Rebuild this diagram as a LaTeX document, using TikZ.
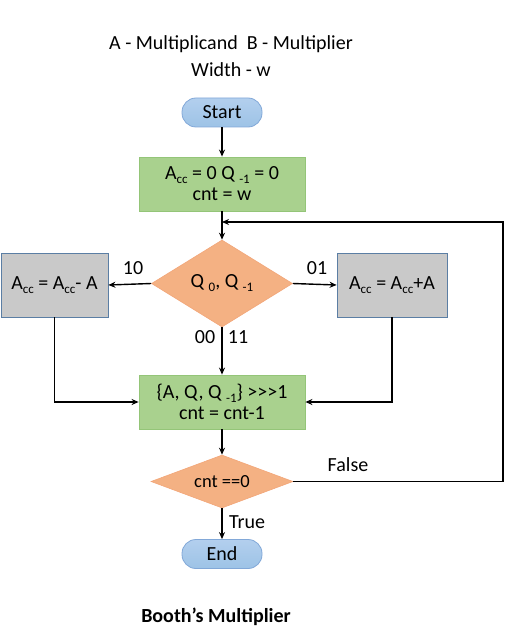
\documentclass[tikz,border=0pt]{standalone}
\usepackage{fontspec}
\setmainfont{Carlito}[Ligatures=TeXOff]
\usetikzlibrary{shapes.geometric,arrows.meta}
\definecolor{bluefill}{HTML}{9DC3E6}
\definecolor{bluetop}{HTML}{B3CFEE}
\definecolor{bluedraw}{HTML}{82A8D8}
\definecolor{greenfill}{HTML}{A9D18E}
\definecolor{greendraw}{HTML}{94C578}
\definecolor{orangefill}{HTML}{F4B183}
\definecolor{orangedraw}{HTML}{F2A679}
\definecolor{grayfill}{HTML}{C9C9C9}
\definecolor{graydraw}{HTML}{5B7EA4}
\newcommand\lo[1]{\raisebox{-4pt}{\fontsize{13}{13}\selectfont #1}}
\tikzset{
  txt/.style={font=\fontsize{20}{24}\selectfont, text=black},
  term/.style={txt, draw=bluedraw, line width=0.8pt, top color=bluetop, bottom color=bluefill, rounded corners=14pt, minimum width=80pt, minimum height=29pt, inner sep=0pt},
  gbox/.style={txt, draw=greendraw, line width=0.8pt, fill=greenfill, minimum width=166pt, minimum height=54pt, inner sep=0pt, align=center},
  graybox/.style={txt, draw=graydraw, line width=0.8pt, fill=grayfill, minimum height=64pt, inner sep=0pt},
  dia/.style={txt, diamond, draw=orangedraw, line width=0.6pt, fill=orangefill, inner sep=0pt},
  conn/.style={line width=1.4pt, draw=black},
  arr/.style={conn, -{Stealth[length=7pt,width=6pt]}},
  lbl/.style={txt}
}
\begin{document}
\begin{tikzpicture}[x=1pt,y=-1pt]
\useasboundingbox (0,0) rectangle (506,631);
\node[txt] (t1) at (231,44) {A - Multiplicand\ \ B - Multiplier};
\node[txt] (t2) at (231,70) {Width - w};
\node[term] (start) at (222,112.5) {Start};
\node[gbox] (init) at (222,184) {A\lo{cc} = 0 Q \lo{-1} = 0\\[-3pt] cnt = w};
\node[dia, minimum width=141pt, minimum height=87pt, aspect=1.62] (d1) at (222,283.5) {Q \lo{0}, Q \lo{-1}};
\node[graybox, minimum width=107pt] (L) at (54.5,285) {A\lo{cc} = A\lo{cc}- A};
\node[graybox, minimum width=110pt] (R) at (392,285) {A\lo{cc} = A\lo{cc}+A};
\node[gbox] (S) at (222,402) {\{A, Q, Q \lo{-1}\} >>>1\\[-3pt] cnt = cnt-1};
\node[dia, font=\fontsize{18.5}{22}\selectfont, minimum width=142pt, minimum height=53pt, aspect=2.68] (d2) at (222,481.5) {cnt ==0};
\node[term] (end) at (222,554) {End};
\node[txt, font=\fontsize{20}{24}\selectfont\bfseries] (title) at (216,617) {Booth’s Multiplier};
\coordinate (c1) at (503,481.5);
\coordinate (c2) at (503,222);
\coordinate (j) at (222,222);

\draw[arr] (start) -- (init);
\draw[arr] (init) -- (d1);
\draw[arr] (d1.west) -- (L.east);
\draw[arr] (d1.east) -- (R.west);
\draw[arr] (d1.south) -- (S.north);
\draw[arr] (L.south) |- (S.west);
\draw[arr] (R.south) |- (S.east);
\draw[arr] (S) -- (d2);
\draw[arr] (d2.east) -- (c1) -- (c2) -- (j);
\draw[arr] (d2.south) -- (end.north);

\node[lbl] (l10) at (133,268) {10};
\node[lbl] (l01) at (317,268) {01};
\node[lbl] (l00) at (205,337) {00};
\node[lbl] (l11) at (238,337) {11};
\node[lbl] (lf) at (348,465) {False};
\node[lbl] (lt) at (247,522) {True};
\end{tikzpicture}
\end{document}
